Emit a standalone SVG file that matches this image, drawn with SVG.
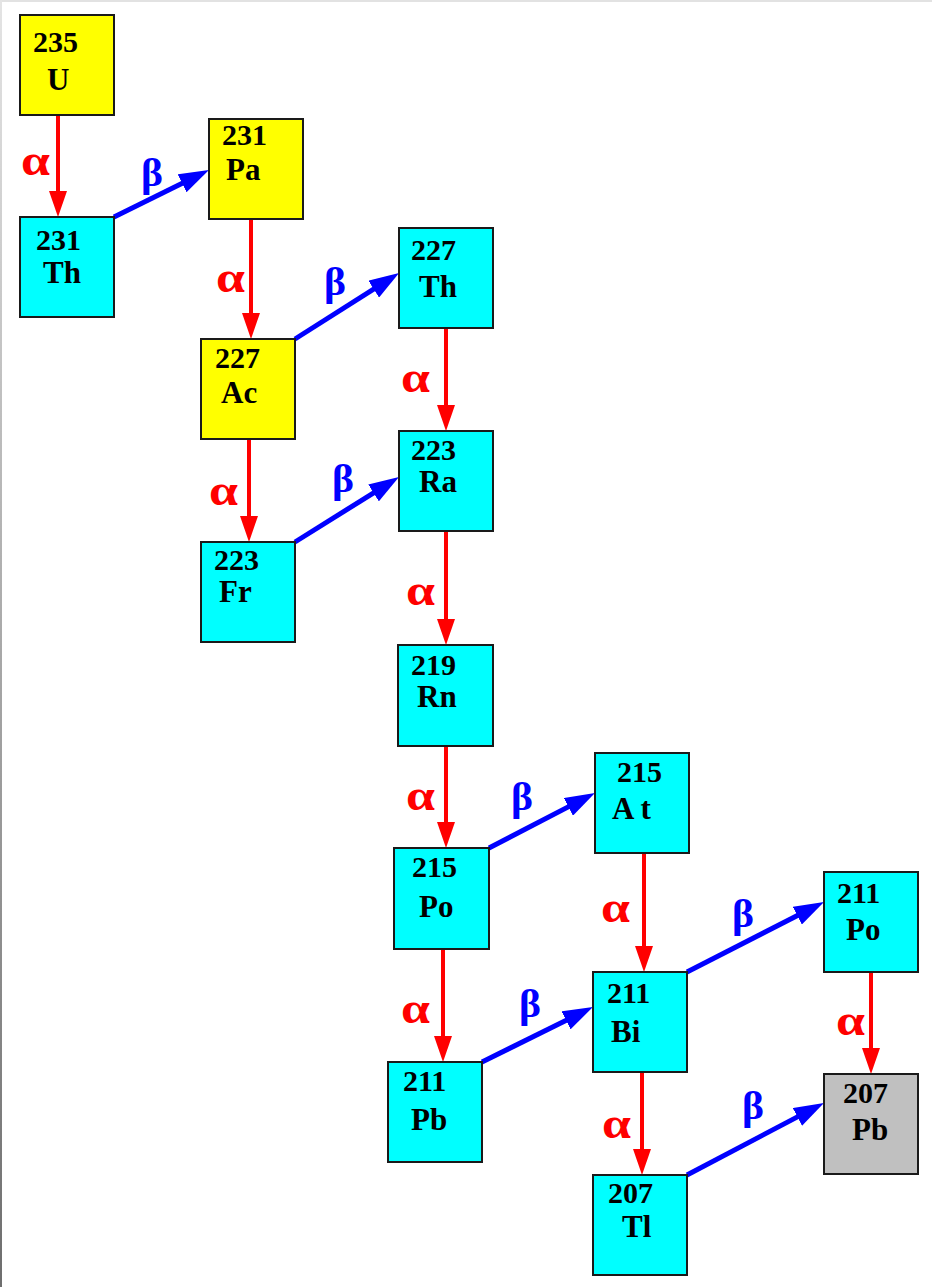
<svg xmlns="http://www.w3.org/2000/svg" width="932" height="1287" viewBox="0 0 932 1287">
  <defs>
    <linearGradient id="edgeShade" x1="0" y1="0" x2="0" y2="1">
      <stop offset="0" stop-color="#e4e4e4"/>
      <stop offset="1" stop-color="#6e6e6e"/>
    </linearGradient>
    <marker id="headAlpha" markerUnits="userSpaceOnUse" viewBox="0 0 26 18" markerWidth="26" markerHeight="18" refX="18" refY="9" orient="auto">
      <path d="M0,0 L26,9 L0,18 z" fill="#ff0000"/>
    </marker>
    <marker id="headBeta" markerUnits="userSpaceOnUse" viewBox="0 0 30 20" markerWidth="30" markerHeight="20" refX="20" refY="10" orient="auto">
      <path d="M0,0 L30,10 L0,20 z" fill="#0000ff"/>
    </marker>
  </defs>
  <style>
    .box { stroke: #1a1a1a; stroke-width: 2; }
    .u { fill: #ffff00; }
    .c { fill: #00ffff; }
    .g { fill: #c0c0c0; }
    .mass { font-family: "Liberation Serif", "Times New Roman", serif; font-weight: bold; font-size: 30px; fill: #000; }
    .sym { font-family: "Liberation Serif", "Times New Roman", serif; font-weight: bold; font-size: 31px; fill: #000; }
    .alpha { stroke: #ff0000; stroke-width: 4; fill: none; marker-end: url(#headAlpha); }
    .beta { stroke: #0000ff; stroke-width: 5; fill: none; marker-end: url(#headBeta); }
    .la { font-family: "Liberation Serif", "Times New Roman", serif; font-weight: bold; font-size: 44px; fill: #ff0000; }
    .lb { font-family: "Liberation Serif", "Times New Roman", serif; font-weight: bold; font-size: 40px; fill: #0000ff; }
  </style>

  <!-- page background and frame -->
  <rect x="0" y="0" width="932" height="1287" fill="#ffffff"/>
  <rect x="0" y="0" width="932" height="2" fill="#e2e2e2"/>
  <rect x="0" y="0" width="2" height="1287" fill="url(#edgeShade)"/>

  <!-- decay connectors -->
  <g id="connectors">
    <!-- alpha decays -->
    <line class="alpha" x1="58" y1="115" x2="58" y2="209"/>
    <line class="alpha" x1="251" y1="219" x2="251" y2="331"/>
    <line class="alpha" x1="249" y1="439" x2="249" y2="534"/>
    <line class="alpha" x1="446" y1="328" x2="446" y2="423"/>
    <line class="alpha" x1="446" y1="531" x2="446" y2="637"/>
    <line class="alpha" x1="446" y1="747" x2="446" y2="840"/>
    <line class="alpha" x1="443" y1="949" x2="443" y2="1054"/>
    <line class="alpha" x1="644" y1="853" x2="644" y2="964"/>
    <line class="alpha" x1="642" y1="1072" x2="642" y2="1167"/>
    <line class="alpha" x1="871" y1="972" x2="871" y2="1066"/>
    <!-- beta decays -->
    <line class="beta" x1="114" y1="217" x2="200" y2="174.4"/>
    <line class="beta" x1="295" y1="339" x2="390.6" y2="278.4"/>
    <line class="beta" x1="295" y1="542" x2="390.5" y2="482.3"/>
    <line class="beta" x1="489" y1="848" x2="586.1" y2="797.6"/>
    <line class="beta" x1="482" y1="1062" x2="584" y2="1011.5"/>
    <line class="beta" x1="687" y1="972" x2="815.1" y2="906.5"/>
    <line class="beta" x1="687" y1="1175" x2="815.1" y2="1107.6"/>
    <!-- decay labels -->
    <text class="la" x="21" y="175" textLength="29" lengthAdjust="spacingAndGlyphs">α</text>
    <text class="la" x="216" y="292" textLength="29" lengthAdjust="spacingAndGlyphs">α</text>
    <text class="la" x="209" y="505" textLength="29" lengthAdjust="spacingAndGlyphs">α</text>
    <text class="la" x="401" y="392" textLength="29" lengthAdjust="spacingAndGlyphs">α</text>
    <text class="la" x="406" y="605" textLength="29" lengthAdjust="spacingAndGlyphs">α</text>
    <text class="la" x="406" y="810" textLength="29" lengthAdjust="spacingAndGlyphs">α</text>
    <text class="la" x="401" y="1023" textLength="29" lengthAdjust="spacingAndGlyphs">α</text>
    <text class="la" x="601" y="922" textLength="29" lengthAdjust="spacingAndGlyphs">α</text>
    <text class="la" x="602" y="1138" textLength="29" lengthAdjust="spacingAndGlyphs">α</text>
    <text class="la" x="836" y="1035" textLength="29" lengthAdjust="spacingAndGlyphs">α</text>
    <text class="lb" x="141" y="186" textLength="22" lengthAdjust="spacingAndGlyphs">β</text>
    <text class="lb" x="324" y="295" textLength="22" lengthAdjust="spacingAndGlyphs">β</text>
    <text class="lb" x="332" y="492" textLength="22" lengthAdjust="spacingAndGlyphs">β</text>
    <text class="lb" x="511" y="810" textLength="22" lengthAdjust="spacingAndGlyphs">β</text>
    <text class="lb" x="519" y="1017" textLength="22" lengthAdjust="spacingAndGlyphs">β</text>
    <text class="lb" x="732" y="927" textLength="22" lengthAdjust="spacingAndGlyphs">β</text>
    <text class="lb" x="742" y="1119" textLength="22" lengthAdjust="spacingAndGlyphs">β</text>
  </g>

  <!-- nuclides -->
  <g id="U235">
    <rect class="box u" x="20" y="15" width="94" height="100"/>
    <text class="mass" x="33" y="52">235</text>
    <text class="sym" x="47" y="90">U</text>
  </g>
  <g id="Th231">
    <rect class="box c" x="20" y="217" width="94" height="100"/>
    <text class="mass" x="36" y="250">231</text>
    <text class="sym" x="43" y="283">Th</text>
  </g>
  <g id="Pa231">
    <rect class="box u" x="209" y="119" width="94" height="100"/>
    <text class="mass" x="222" y="145">231</text>
    <text class="sym" x="226" y="180">Pa</text>
  </g>
  <g id="Th227">
    <rect class="box c" x="399" y="228" width="94" height="100"/>
    <text class="mass" x="411" y="260">227</text>
    <text class="sym" x="419" y="297">Th</text>
  </g>
  <g id="Ac227">
    <rect class="box u" x="201" y="339" width="94" height="100"/>
    <text class="mass" x="215" y="368">227</text>
    <text class="sym" x="221" y="403">Ac</text>
  </g>
  <g id="Ra223">
    <rect class="box c" x="399" y="431" width="94" height="100"/>
    <text class="mass" x="411" y="460">223</text>
    <text class="sym" x="419" y="492">Ra</text>
  </g>
  <g id="Fr223">
    <rect class="box c" x="201" y="542" width="94" height="100"/>
    <text class="mass" x="214" y="570">223</text>
    <text class="sym" x="219" y="602">Fr</text>
  </g>
  <g id="Rn219">
    <rect class="box c" x="398" y="645" width="95" height="101"/>
    <text class="mass" x="411" y="675">219</text>
    <text class="sym" x="417" y="707">Rn</text>
  </g>
  <g id="At215">
    <rect class="box c" x="595" y="753" width="94" height="100"/>
    <text class="mass" x="617" y="782">215</text>
    <text class="sym" x="612" y="819" xml:space="preserve">A t</text>
  </g>
  <g id="Po215">
    <rect class="box c" x="394" y="848" width="95" height="101"/>
    <text class="mass" x="412" y="877">215</text>
    <text class="sym" x="419" y="917">Po</text>
  </g>
  <g id="Bi211">
    <rect class="box c" x="593" y="972" width="94" height="100"/>
    <text class="mass" x="607" y="1003">211</text>
    <text class="sym" x="611" y="1042">Bi</text>
  </g>
  <g id="Pb211">
    <rect class="box c" x="388" y="1062" width="94" height="100"/>
    <text class="mass" x="403" y="1091">211</text>
    <text class="sym" x="411" y="1130">Pb</text>
  </g>
  <g id="Po211">
    <rect class="box c" x="824" y="872" width="94" height="100"/>
    <text class="mass" x="837" y="903">211</text>
    <text class="sym" x="846" y="940">Po</text>
  </g>
  <g id="Pb207">
    <rect class="box g" x="824" y="1074" width="94" height="100"/>
    <text class="mass" x="843" y="1103">207</text>
    <text class="sym" x="852" y="1140">Pb</text>
  </g>
  <g id="Tl207">
    <rect class="box c" x="593" y="1175" width="94" height="100"/>
    <text class="mass" x="608" y="1203">207</text>
    <text class="sym" x="622" y="1237">Tl</text>
  </g>
</svg>
